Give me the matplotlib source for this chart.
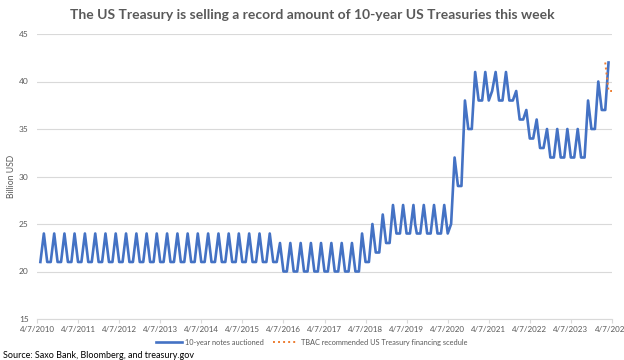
import numpy as np
import pandas as pd
import matplotlib
matplotlib.use('Agg')
import matplotlib.pyplot as plt

plt.rcParams['font.family'] = ['Lato', 'DejaVu Sans']

# 10-year note auction sizes (billion USD), monthly from Apr 2010 to Feb 2024
auctioned = [
    21, 24, 21, 21, 24, 21, 21, 24, 21,                  # 2010 (Apr-Dec)
    21, 24, 21, 21, 24, 21, 21, 24, 21, 21, 24, 21,      # 2011
    21, 24, 21, 21, 24, 21, 21, 24, 21, 21, 24, 21,      # 2012
    21, 24, 21, 21, 24, 21, 21, 24, 21, 21, 24, 21,      # 2013
    21, 24, 21, 21, 24, 21, 21, 24, 21, 21, 24, 21,      # 2014
    21, 24, 21, 21, 24, 21, 21, 24, 21, 21, 24, 21,      # 2015
    21, 23, 20, 20, 23, 20, 20, 23, 20, 20, 23, 20,      # 2016
    20, 23, 20, 20, 23, 20, 20, 23, 20, 20, 23, 20,      # 2017
    20, 24, 21, 21, 25, 22, 22, 26, 23, 23, 27, 24,      # 2018
    24, 27, 24, 24, 27, 24, 24, 27, 24, 24, 27, 24,      # 2019
    24, 27, 24, 25, 32, 29, 29, 38, 35, 35, 41, 38,      # 2020
    38, 41, 38, 39, 41, 38, 38, 41, 38, 38, 39, 36,      # 2021
    36, 37, 34, 34, 36, 33, 33, 35, 32, 32, 35, 32,      # 2022
    32, 35, 32, 32, 35, 32, 32, 38, 35, 35, 40, 37,      # 2023
    37, 42,                                              # 2024 (Jan-Feb)
]
auction_dates = pd.date_range('2010-04-07', periods=len(auctioned), freq='MS') + pd.Timedelta(days=6)

# one extra mid-month point in 2019
extra_date = pd.Timestamp('2019-06-22')
extra_value = 25

tbac_dates = pd.to_datetime(['2024-02-07', '2024-03-07', '2024-04-07'])
tbac_values = [42, 39, 39]

tick_years = list(range(2010, 2025))

s = pd.Series(auctioned, index=auction_dates)
s[extra_date] = extra_value
s = s.sort_index()

W, H = 624, 360
fig = plt.figure(figsize=(W / 100, H / 100), dpi=100)
ax = fig.add_axes([37 / W, 1 - 319 / H, (612 - 37) / W, (319 - 34) / H])

ax.plot(s.index, s.values, color='#4472C4', lw=1.9, label='10-year notes auctioned')
ax.plot(tbac_dates, tbac_values, color='#ED7D31', lw=1.4, ls=(0, (1, 1.6)),
        label='TBAC recommended US Treasury financing scedule')

ax.set_ylim(15, 45)
ax.set_yticks(range(15, 50, 5))
ax.set_xlim(pd.Timestamp('2010-04-07'), pd.Timestamp('2024-04-07'))
ticks = [pd.Timestamp(f'{y}-04-07') for y in tick_years]
ax.set_xticks(ticks)
ax.set_xticklabels([f'{t.month}/{t.day}/{t.year}' for t in ticks])

ax.grid(axis='y', color='#d9d9d9', lw=0.8)
ax.set_axisbelow(True)
for side in ['top', 'right', 'left']:
    ax.spines[side].set_visible(False)
ax.spines['bottom'].set_color('#d9d9d9')
ax.tick_params(axis='x', colors='#d9d9d9', labelcolor='#595959', labelsize=5.8, length=3, pad=2)
ax.tick_params(axis='y', length=0, labelcolor='#595959', labelsize=6, pad=6)

fig.text(12 / W, 1 - 176 / H, 'Billion USD', rotation=90, ha='center', va='center',
         color='#595959', fontsize=6.2)

fig.text(0.5, 1 - 15 / H, 'The US Treasury is selling a record amount of 10-year US Treasuries this week',
         ha='center', va='center', fontsize=10, fontweight='bold', color='#595959')

fig.legend(loc='center', bbox_to_anchor=(0.5, 1 - 342 / H), ncol=2, frameon=False,
           fontsize=5.3, labelcolor='#595959', handlelength=3.5, columnspacing=1.2, handletextpad=0.4)

fig.text(3 / W, 1 - 355 / H, 'Source: Saxo Bank, Bloomberg, and treasury.gov',
         ha='left', va='center', fontsize=6.5, color='black')

fig.savefig('out.png', dpi=100)
